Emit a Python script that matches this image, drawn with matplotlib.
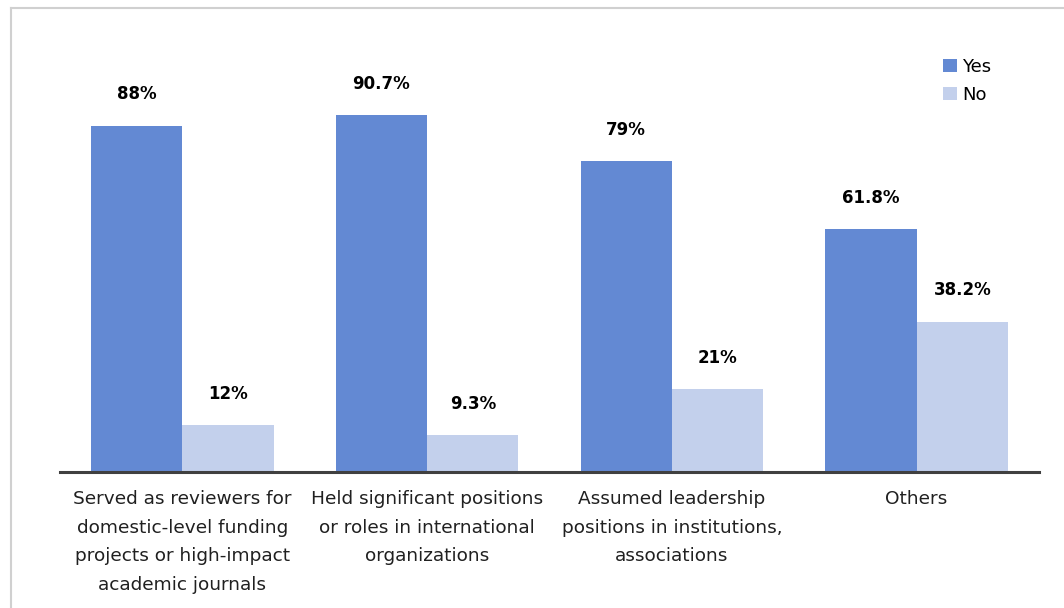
import numpy as np
import matplotlib.pyplot as plt
from matplotlib.lines import Line2D

categories = [
    'Served as reviewers for\ndomestic-level funding\nprojects or high-impact\nacademic journals',
    'Held significant positions\nor roles in international\norganizations',
    'Assumed leadership\npositions in institutions,\nassociations',
    'Others',
]
yes_vals = [88, 90.7, 79, 61.8]
no_vals = [12, 9.3, 21, 38.2]
yes_labels = ['88%', '90.7%', '79%', '61.8%']
no_labels = ['12%', '9.3%', '21%', '38.2%']

yes_color = '#6389D3'
no_color = '#C3D0EC'

fig = plt.figure(figsize=(10.64, 6.08), dpi=100)
ax = fig.add_axes([60 / 1064, 1 - 472 / 608, 979 / 1064, 393.6 / 608])

x = np.arange(len(categories))
w = 0.373
b1 = ax.bar(x - w / 2, yes_vals, w, color=yes_color, label='Yes')
b2 = ax.bar(x + w / 2, no_vals, w, color=no_color, label='No')

for bars, labs in [(b1, yes_labels), (b2, no_labels)]:
    for r, lab in zip(bars, labs):
        ax.annotate(lab, (r.get_x() + r.get_width() / 2, r.get_height()),
                    xytext=(0, 16), textcoords='offset points',
                    ha='center', va='bottom', fontsize=12, fontweight='bold',
                    annotation_clip=False)

ax.set_xlim(-0.5, 3.5)
ax.set_ylim(0, 100)
ax.set_xticks(x)
ax.set_xticklabels(categories, fontsize=13.3, linespacing=1.75, color='#202020')
ax.tick_params(axis='x', length=0, pad=13)
ax.set_yticks([])
for s in ['top', 'right', 'left']:
    ax.spines[s].set_visible(False)
ax.spines['bottom'].set_color('#404040')
ax.spines['bottom'].set_linewidth(2.2)

ax.legend(loc='upper left', bbox_to_anchor=(876 / 979, 1.07), frameon=False,
          fontsize=13, handlelength=0.75, handleheight=0.75, handletextpad=0.3,
          labelspacing=0.55, borderaxespad=0)

# light frame on the left and top
fig.add_artist(Line2D([11 / 1064, 11 / 1064], [0, 1 - 8 / 608], color='#D0D0D0', lw=1.5))
fig.add_artist(Line2D([11 / 1064, 1], [1 - 8 / 608, 1 - 8 / 608], color='#D0D0D0', lw=1.5))

fig.savefig('out.png', dpi=100)
